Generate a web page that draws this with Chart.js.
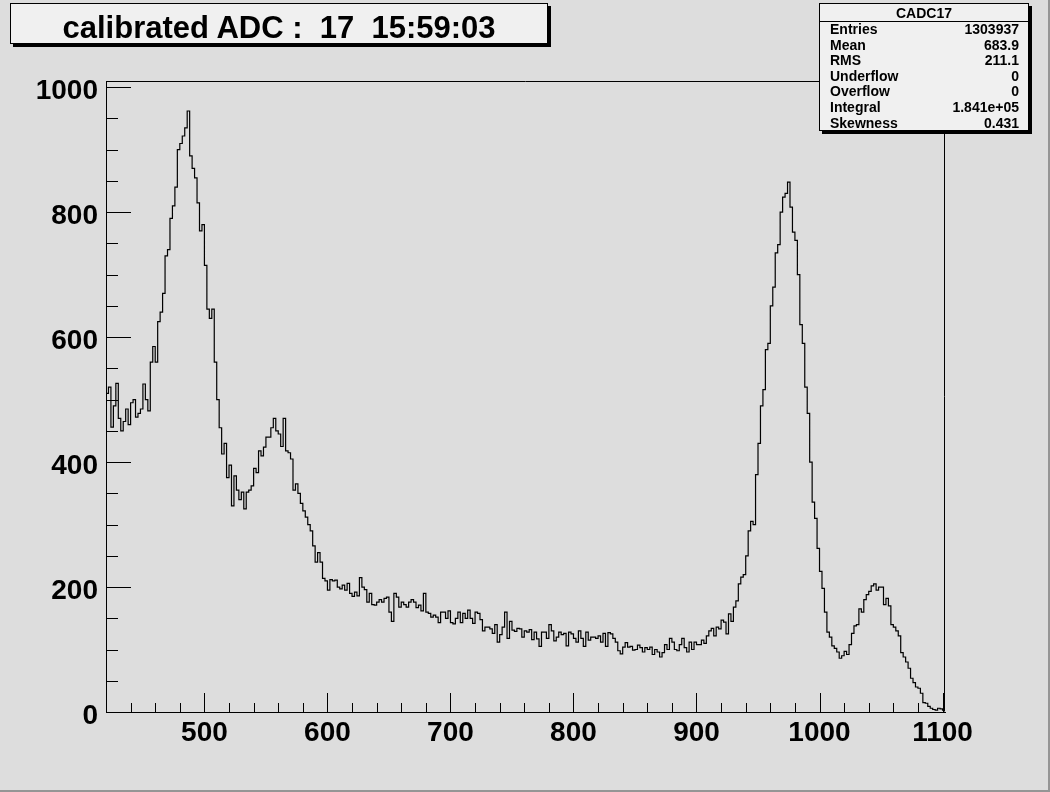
<!DOCTYPE html>
<html>
<head>
<meta charset="utf-8">
<script src="https://cdn.jsdelivr.net/npm/chart.js@4.4.1/dist/chart.umd.min.js"></script>
<style>
    html, body { margin: 0; padding: 0; background: #dddddd; }
    #page { position: relative; width: 1048px; height: 790px; background: #dddddd;
            border-right: 2px solid #959595; border-bottom: 2px solid #959595; overflow: hidden; }
    #c { position: absolute; left: 0; top: 0; }
    .box { position: absolute; background: #f0f0f0; border: 1px solid #000; box-shadow: 3px 3px 0 #000;
           font-family: "Liberation Sans", Arial, sans-serif; font-weight: bold; color: #000; }
    #title { left: 10px; top: 3px; width: 536px; height: 39px; font-size: 31px; line-height: 47px;
             text-align: center; white-space: pre; }
    #stats { left: 819px; top: 3px; width: 208px; height: 126px; font-size: 14px; }
    #stats .head { height: 17px; line-height: 18px; text-align: center; border-bottom: 1px solid #000; }
    #stats .row { height: 15.6px; line-height: 14.6px; padding: 0 9px 0 10px; display: flex; justify-content: space-between; }
</style>
</head>
<body>
<div id="page">
    <canvas id="c" width="1050" height="792"></canvas>
    <div id="title" class="box">calibrated ADC :  17  15:59:03</div>
    <div id="stats" class="box"><div class="head">CADC17</div></div>
</div>
<script>
// histogram CADC17, 2 ADC units per bin starting at 420
var xMin = 420;
var xMax = 1102;
var binWidth = 2;
var counts = [
    510, 520, 456, 490, 526, 470, 450, 465, 485, 460, 495, 500, 472, 478, 485, 525, 500, 482, 560, 585, 560, 625,
    640, 670, 730, 740, 790, 810, 840, 900, 910, 922, 935, 962, 890, 870, 855, 815, 770, 780, 715, 645, 630, 645,
    560, 500, 455, 413, 430, 375, 395, 330, 378, 355, 340, 352, 325, 352, 355, 362, 390, 383, 418, 410, 424, 440,
    440, 455, 470, 450, 445, 425, 470, 418, 415, 405, 355, 365, 350, 334, 322, 312, 300,
    290, 266, 240, 255, 240, 214, 210, 195, 212, 210, 211, 200, 197, 203, 195, 206, 190, 185, 192, 186, 215, 200,
    196, 176, 190, 172, 171, 176, 180, 176, 182, 184, 160, 145, 190, 184, 168, 176, 172, 168, 176, 180, 176, 167,
    171, 162, 190, 160, 158, 152, 155, 152, 143, 160, 160, 150, 162, 143, 141, 150, 160, 143, 158, 150, 163, 150,
    142, 160, 158, 148, 130, 136, 136, 133, 126, 140, 112, 124, 136, 160, 118, 145, 131, 129, 134, 133, 120, 130,
    128, 132, 116, 128, 117, 105, 128, 128, 118, 140, 130, 114, 120, 128, 124, 126, 106, 128, 125, 118, 112, 130,
    118, 105, 128, 115, 120, 120, 118,
    122, 112, 126, 105, 127, 125, 118, 112, 98, 93, 104, 111, 104, 105, 99, 100, 107, 103, 96, 103, 100, 104,
    92, 100, 96, 88, 95, 108, 100, 118, 112, 100, 98, 108, 118, 103, 96, 112, 100, 112, 108, 108, 115, 110,
    122, 130, 134, 122, 136, 133, 147, 144, 125, 157, 145, 168, 178, 205, 216, 220, 250, 290, 305, 300,
    380, 430, 490, 516, 580, 590, 650, 680, 735, 748, 800, 824, 830, 848, 808, 768, 755, 700, 620, 590, 520, 478,
    400, 336, 310, 262, 225, 198, 160, 128, 120, 106, 102, 96, 86, 90, 97, 92, 108, 126, 138, 140, 165, 160,
    180, 188, 193, 202, 205, 195, 200, 200, 172, 182, 170, 140, 136, 130, 122, 95, 88, 80, 70, 54, 47, 40,
    38, 30, 15, 14, 9, 6, 4, 3, 6, 5, 3
];
var xTickLabels = [500, 600, 700, 800, 900, 1000, 1100];
var yTickLabels = [0, 200, 400, 600, 800, 1000];
var yMax = 1010;

var statLabels = ['Entries', 'Mean', 'RMS', 'Underflow', 'Overflow', 'Integral', 'Skewness'];
var statValues = ['1303937', '683.9', '211.1', '0', '0', '1.841e+05', '0.431'];

var statsBox = document.getElementById('stats');
statLabels.forEach(function (label, i) {
    var row = document.createElement('div');
    row.className = 'row';
    row.innerHTML = '<span>' + label + '</span><span>' + statValues[i] + '</span>';
    statsBox.appendChild(row);
});

var points = counts.map(function (v, i) {
    return { x: xMin + i * binWidth, y: v };
});
points.push({ x: xMax, y: counts[counts.length - 1] });

// ROOT style frame: closed box, ticks drawn inward
var frameTicks = {
    id: 'frameTicks',
    afterDraw: function (chart) {
        var ctx = chart.ctx;
        var a = chart.chartArea;
        var xs = chart.scales.x;
        var ys = chart.scales.y;
        ctx.save();
        ctx.strokeStyle = '#000';
        ctx.lineWidth = 1;
        ctx.beginPath();
        ctx.moveTo(Math.round(a.left) + 0.5, Math.round(a.top) + 0.5);
        ctx.lineTo(Math.round(a.right) - 0.5, Math.round(a.top) + 0.5);
        ctx.lineTo(Math.round(a.right) - 0.5, Math.round(a.bottom) - 0.5);
        ctx.stroke();

        ctx.beginPath();
        for (var v = 440; v <= 1100; v += 20) {
            var px = Math.round(xs.getPixelForValue(v)) + 0.5;
            var len = (v % 100 === 0) ? 19 : 9;
            ctx.moveTo(px, a.bottom);
            ctx.lineTo(px, a.bottom - len);
        }
        for (var w = 0; w <= 1000; w += 50) {
            var py = Math.round(ys.getPixelForValue(w)) + 0.5;
            var ylen = (w % 200 === 0) ? 25 : 12;
            ctx.moveTo(a.left, py);
            ctx.lineTo(a.left + ylen, py);
        }
        ctx.stroke();
        ctx.restore();
    }
};

var labelFont = { family: '"Liberation Sans", Arial, sans-serif', size: 28, weight: 'bold' };

function plainLabel(value) {
    return String(value);
}

var chart = new Chart(document.getElementById('c').getContext('2d'), {
    type: 'line',
    data: {
        datasets: [{
            label: 'CADC17',
            data: points,
            stepped: true,
            borderColor: '#000',
            borderWidth: 1.2,
            pointRadius: 0,
            fill: false
        }]
    },
    options: {
        responsive: false,
        animation: false,
        layout: { padding: { left: 0, top: 81, right: 105, bottom: 0 } },
        scales: {
            x: {
                type: 'linear',
                min: xMin,
                max: xMax,
                grid: { display: false, drawTicks: false },
                border: { display: true, color: '#000', width: 1 },
                afterBuildTicks: function (scale) {
                    scale.ticks = xTickLabels.map(function (v) { return { value: v }; });
                },
                afterFit: function (scale) { scale.height = 80; },
                ticks: { color: '#000', font: labelFont, padding: 4, maxRotation: 0, autoSkip: false, callback: plainLabel }
            },
            y: {
                type: 'linear',
                min: 0,
                max: yMax,
                grid: { display: false, drawTicks: false },
                border: { display: true, color: '#000', width: 1 },
                afterBuildTicks: function (scale) {
                    scale.ticks = yTickLabels.map(function (v) { return { value: v }; });
                },
                afterFit: function (scale) { scale.width = 106; },
                ticks: { color: '#000', font: labelFont, padding: 8, labelOffset: 4, callback: plainLabel }
            }
        },
        plugins: {
            legend: { display: false },
            tooltip: { enabled: false }
        }
    },
    plugins: [frameTicks]
});
</script>
</body>
</html>
